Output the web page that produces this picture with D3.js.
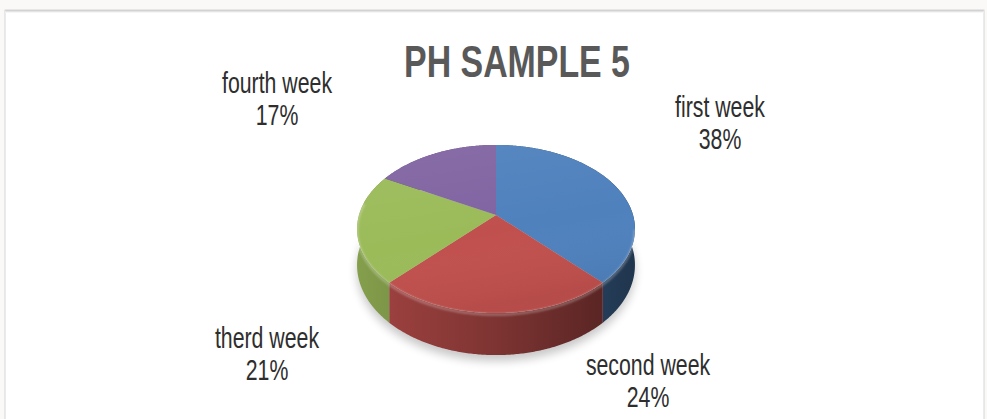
<!DOCTYPE html>
<html>
<head>
<meta charset="utf-8">
<script src="https://cdn.jsdelivr.net/npm/d3@7"></script>
<style>
  html, body { margin: 0; padding: 0; background: #fbf9f8; }
  svg { display: block; }
</style>
</head>
<body>
<svg id="chart" width="987" height="419"></svg>
<script>
// Weekly shares of pH sample 5
const categories = ["first week", "second week", "therd week", "fourth week"];
const values = [38, 24, 21, 17];
const colors = ["#4f81bd", "#c0504d", "#9bbb59", "#8064a2"];
const chartTitle = "PH SAMPLE 5";

// Label anchors (centre x, baseline of first line)
const labelAnchors = [[720, 117], [648, 375], [267, 348], [277, 93]];

const W = 987, H = 419;
const svg = d3.select("#chart");
const defs = svg.append("defs");

// Chart area frame
const topShade = defs.append("linearGradient").attr("id", "topShade")
  .attr("x1", 0).attr("y1", 0).attr("x2", 0).attr("y2", 1);
topShade.append("stop").attr("offset", 0).attr("stop-color", "#c9c9c9");
topShade.append("stop").attr("offset", 1).attr("stop-color", "#ffffff");

svg.append("rect").attr("x", 5).attr("y", 10).attr("width", 979).attr("height", 430)
  .attr("fill", "#ffffff").attr("stroke", "#d6d6d6").attr("stroke-width", 1);
svg.append("rect").attr("x", 5.5).attr("y", 10).attr("width", 978).attr("height", 3)
  .attr("fill", "url(#topShade)");

// Title
svg.append("text")
  .attr("transform", "translate(517,77) scale(0.77,1)")
  .attr("text-anchor", "middle")
  .attr("font-family", "'Liberation Sans', Arial, sans-serif")
  .attr("font-weight", "bold")
  .attr("font-size", 44)
  .attr("fill", "#595959")
  .text(chartTitle);

// Perspective projection of the pie disc
const cx = 496, cy = 215;
const rx = 137, ry = 81.7, persp = 0.167, depth = 35;
function project(angle, r, level) {
  const X = r * Math.sin(angle);
  const Z = -r * Math.cos(angle);
  const p = 1 / (1 - persp * Z);
  return [cx + rx * X * p, cy + ry * Z * p + depth * p * level];
}
function arcPoints(a0, a1, level) {
  const n = Math.max(2, Math.ceil((a1 - a0) / 0.01));
  return d3.range(n + 1).map(i => project(a0 + (a1 - a0) * i / n, 1, level));
}

const pie = d3.pie().sort(null).value(d => d)
  .startAngle(0).endAngle(2 * Math.PI);
const slices = pie(values);
const line = d3.line();

// Drop shadow beneath the disc
const blur = defs.append("filter").attr("id", "shadowBlur")
  .attr("x", "-20%").attr("y", "-20%").attr("width", "140%").attr("height", "140%");
blur.append("feGaussianBlur").attr("stdDeviation", 5);
svg.append("path")
  .attr("d", line(arcPoints(0, 2 * Math.PI, 1)) + "Z")
  .attr("transform", "translate(0,6)")
  .attr("fill", "#000").attr("opacity", 0.22)
  .attr("filter", "url(#shadowBlur)");

// Outer walls, shaded darker towards the right
slices.forEach((s, i) => {
  const base = d3.color(colors[i]);
  const g = defs.append("linearGradient").attr("id", "wall" + i)
    .attr("gradientUnits", "userSpaceOnUse")
    .attr("x1", cx - rx * 1.02).attr("y1", 0)
    .attr("x2", cx + rx * 1.02).attr("y2", 0);
  g.append("stop").attr("offset", 0).attr("stop-color", base.darker(0.45).formatHex());
  g.append("stop").attr("offset", 0.5).attr("stop-color", base.darker(1.2).formatHex());
  g.append("stop").attr("offset", 1).attr("stop-color", base.darker(2.5).formatHex());
});
slices.forEach((s, i) => {
  const top = arcPoints(s.startAngle, s.endAngle, 0);
  const bottom = arcPoints(s.startAngle, s.endAngle, 1).reverse();
  svg.append("path")
    .attr("d", line(top.concat(bottom)) + "Z")
    .attr("fill", `url(#wall${i})`);
});

// Top faces
slices.forEach((s, i) => {
  const pts = [project(0, 0, 0)].concat(arcPoints(s.startAngle, s.endAngle, 0));
  svg.append("path")
    .attr("d", line(pts) + "Z")
    .attr("fill", colors[i]);
});

// Soft lighting over the top face
const faceLight = defs.append("linearGradient").attr("id", "faceLight")
  .attr("x1", 0).attr("y1", 0).attr("x2", 0.3).attr("y2", 1);
faceLight.append("stop").attr("offset", 0).attr("stop-color", "#fff").attr("stop-opacity", 0.06);
faceLight.append("stop").attr("offset", 0.6).attr("stop-color", "#fff").attr("stop-opacity", 0);
faceLight.append("stop").attr("offset", 1).attr("stop-color", "#000").attr("stop-opacity", 0.05);
svg.append("path")
  .attr("d", line(arcPoints(0, 2 * Math.PI, 0)) + "Z")
  .attr("fill", "url(#faceLight)");

// Bevel highlight along the front rim
const bevel = defs.append("filter").attr("id", "bevelBlur");
bevel.append("feGaussianBlur").attr("stdDeviation", 1);
svg.append("path")
  .attr("d", line(arcPoints(Math.PI * 0.55, Math.PI * 1.55, 0).map(d => [d[0], d[1] + 1.5])))
  .attr("fill", "none")
  .attr("stroke", "#fff").attr("stroke-opacity", 0.28).attr("stroke-width", 2.5)
  .attr("filter", "url(#bevelBlur)");

// Category and percentage labels
const total = d3.sum(values);
slices.forEach((s, i) => {
  const [lx, ly] = labelAnchors[i];
  const t = svg.append("text")
    .attr("transform", `translate(${lx},${ly}) scale(0.71,1)`)
    .attr("text-anchor", "middle")
    .attr("font-family", "'Liberation Sans', Arial, sans-serif")
    .attr("font-size", 30)
    .attr("fill", "#2e2e2e");
  t.append("tspan").attr("x", 0).attr("y", 0).text(categories[i]);
  t.append("tspan").attr("x", 0).attr("y", 32)
    .text(Math.round(s.value / total * 100) + "%");
});
</script>
</body>
</html>
